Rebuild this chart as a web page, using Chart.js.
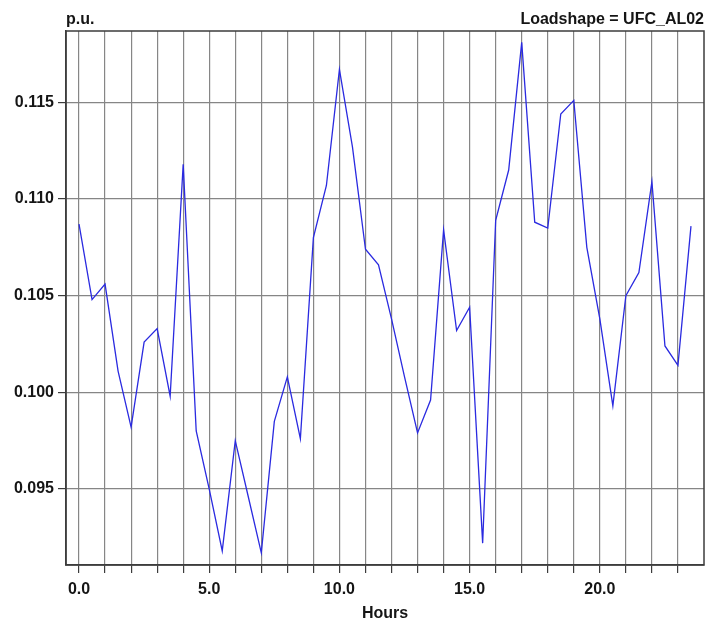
<!DOCTYPE html>
<html>
<head>
<meta charset="utf-8">
<script src="https://cdn.jsdelivr.net/npm/chart.js@4/dist/chart.umd.min.js"></script>
<style>
  html, body { margin: 0; padding: 0; background: #ffffff; }
  #wrap { width: 707px; height: 623px; position: relative; }
</style>
</head>
<body>
<div id="wrap"><canvas id="c" width="707" height="623"></canvas></div>
<script>
// ---- data ----
const hours = [0, 0.5, 1, 1.5, 2, 2.5, 3, 3.5, 4, 4.5, 5, 5.5, 6, 6.5, 7, 7.5,
  8, 8.5, 9, 9.5, 10, 10.5, 11, 11.5, 12, 12.5, 13, 13.5, 14, 14.5, 15, 15.5,
  16, 16.5, 17, 17.5, 18, 18.5, 19, 19.5, 20, 20.5, 21, 21.5, 22, 22.5, 23, 23.5];
const loadValues = [
  0.1087, 0.1048, 0.1056, 0.1011, 0.0982, 0.1026, 0.1033, 0.0998,
  0.1118, 0.0980, 0.0950, 0.0918, 0.0975, 0.0946, 0.0917, 0.0985,
  0.1008, 0.0976, 0.1080, 0.1107, 0.1167, 0.1127, 0.1074, 0.1066,
  0.1038, 0.1008, 0.0979, 0.0996, 0.1084, 0.1032, 0.1044, 0.0922,
  0.1089, 0.1115, 0.1181, 0.1088, 0.1085, 0.1144, 0.1151, 0.1075,
  0.1038, 0.0993, 0.1050, 0.1062, 0.1109, 0.1024, 0.1014, 0.1086];
const xGridHours = [0, 1, 2, 3, 4, 5, 6, 7, 8, 9, 10, 11, 12, 13, 14, 15, 16, 17, 18, 19, 20, 21, 22, 23];
const xLabelHours = [0, 5, 10, 15, 20];
const yTicks = [0.095, 0.100, 0.105, 0.110, 0.115];
const yUnit = 'p.u.';
const chartLabel = 'Loadshape = UFC_AL02';
const xTitle = 'Hours';

const FONT = '"Liberation Sans", Arial, sans-serif';
const TEXT = '#151515';
const GRID = '#868686';
const FRAME = '#3c3c3c';

const framePlugin = {
  id: 'frame',
  afterDraw(chart) {
    const { ctx, chartArea: a } = chart;
    ctx.save();
    ctx.strokeStyle = FRAME;
    ctx.lineWidth = 1.5;
    ctx.strokeRect(a.left, a.top, a.right - a.left, a.bottom - a.top);
    ctx.fillStyle = TEXT;
    ctx.font = 'bold 16px ' + FONT;
    ctx.textBaseline = 'alphabetic';
    ctx.textAlign = 'left';
    ctx.fillText(yUnit, a.left, 24);
    ctx.textAlign = 'right';
    ctx.fillText(chartLabel, a.right, 24);
    ctx.restore();
  }
};

new Chart(document.getElementById('c'), {
  type: 'line',
  data: {
    datasets: [{
      data: hours.map((h, i) => ({ x: h, y: loadValues[i] })),
      borderColor: '#2a2ae0',
      borderWidth: 1.3,
      pointRadius: 0,
      tension: 0,
      fill: false
    }]
  },
  options: {
    responsive: false,
    animation: false,
    devicePixelRatio: 1,
    layout: { padding: { top: 31, right: 3, left: 0, bottom: 0 } },
    plugins: { legend: { display: false }, tooltip: { enabled: false } },
    scales: {
      x: {
        type: 'linear',
        min: -0.5,
        max: 24,
        afterBuildTicks(scale) { scale.ticks = xGridHours.map(v => ({ value: v })); },
        afterFit(scale) { scale.height = 58; },
        ticks: {
          autoSkip: false,
          maxRotation: 0,
          padding: 7,
          color: TEXT,
          font: { family: FONT, size: 16, weight: 'bold' },
          callback: (v) => xLabelHours.includes(v) ? v.toFixed(1) : ''
        },
        grid: { color: GRID, lineWidth: 1.2, tickLength: 8, tickColor: FRAME },
        border: { display: true, color: FRAME, width: 1.5 },
        title: {
          display: true, text: xTitle, color: TEXT,
          font: { family: FONT, size: 16, weight: 'bold' },
          padding: { top: 0, bottom: 0 }
        }
      },
      y: {
        type: 'linear',
        min: 0.09107,
        max: 0.11869,
        afterBuildTicks(scale) { scale.ticks = yTicks.map(v => ({ value: v })); },
        afterFit(scale) { scale.width = 66; },
        ticks: {
          padding: 4,
          color: TEXT,
          font: { family: FONT, size: 16, weight: 'bold' },
          callback: (v) => Number(v).toFixed(3)
        },
        grid: { color: GRID, lineWidth: 1.2, tickLength: 8, tickColor: FRAME },
        border: { display: true, color: FRAME, width: 1.5 }
      }
    }
  },
  plugins: [framePlugin]
});
</script>
</body>
</html>
